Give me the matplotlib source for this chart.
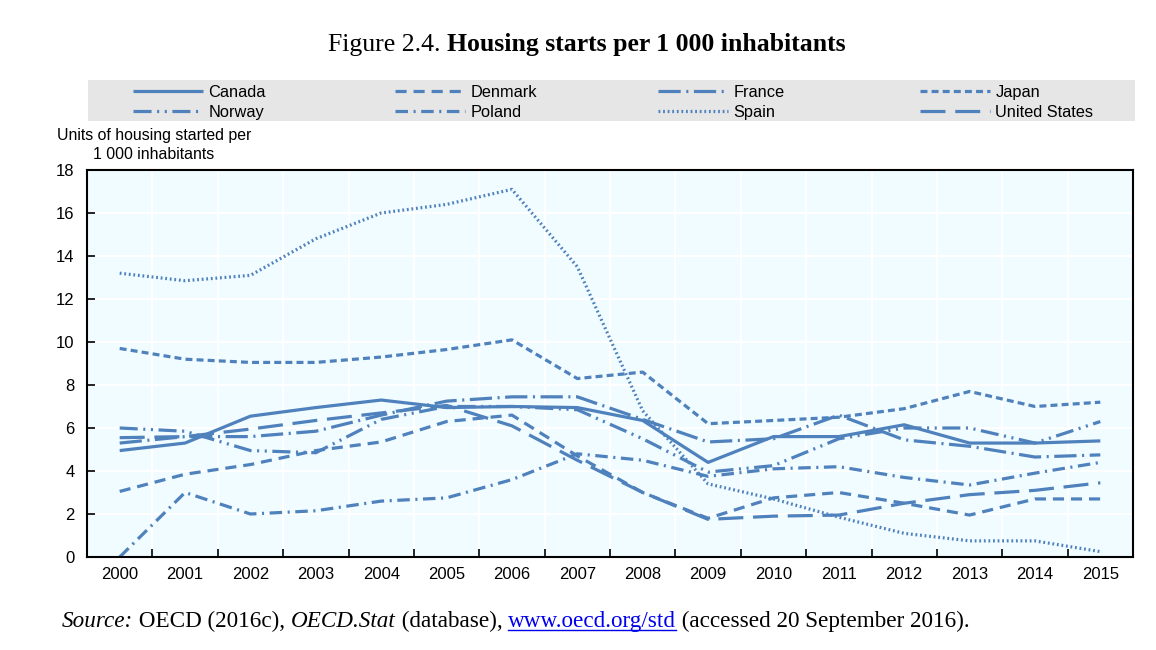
import numpy as np
import matplotlib.pyplot as plt
from matplotlib.lines import Line2D
from matplotlib.patches import Rectangle

W, H = 1156, 650

years = [str(y) for y in range(2000, 2016)]
canada = [4.95, 5.3, 6.55, 6.95, 7.3, 6.95, 7.0, 6.95, 6.35, 4.4, 5.6, 5.6, 6.15, 5.3, 5.3, 5.4]
denmark = [3.05, 3.85, 4.3, 4.95, 5.35, 6.3, 6.6, 4.7, 3.0, 1.8, 2.75, 3.0, 2.5, 1.95, 2.7, 2.7]
france = [5.3, 5.6, 5.6, 5.85, 6.6, 7.25, 7.45, 7.45, 6.4, 5.35, 5.5, 6.6, 5.45, 5.15, 4.65, 4.75]
japan = [9.7, 9.2, 9.05, 9.05, 9.3, 9.65, 10.1, 8.3, 8.6, 6.2, 6.35, 6.5, 6.9, 7.7, 7.0, 7.2]
norway = [6.0, 5.85, 4.95, 4.85, 6.4, 7.0, 7.0, 6.85, 5.5, 3.95, 4.25, 5.5, 6.0, 6.0, 5.3, 6.3]
poland = [0.0, 3.0, 2.0, 2.15, 2.6, 2.75, 3.6, 4.8, 4.5, 3.75, 4.1, 4.2, 3.7, 3.35, 3.9, 4.4]
spain = [13.2, 12.85, 13.1, 14.8, 16.0, 16.4, 17.1, 13.5, 6.8, 3.4, 2.7, 1.85, 1.1, 0.75, 0.75, 0.25]
united_states = [5.55, 5.6, 5.95, 6.35, 6.7, 7.05, 6.1, 4.5, 3.0, 1.75, 1.9, 1.95, 2.5, 2.9, 3.1, 3.45]

series = [
    ("Canada", canada, "-"),
    ("Denmark", denmark, (0, (8, 5))),
    ("France", france, (0, (16, 4, 1.5, 4))),
    ("Japan", japan, (0, (5, 3))),
    ("Norway", norway, (0, (13, 4, 1.5, 4, 1.5, 4))),
    ("Poland", poland, (0, (9, 4, 1.5, 4))),
    ("Spain", spain, (0, (1.3, 2))),
    ("United States", united_states, (0, (18, 7))),
]

blue = "#4F81BD"
plt.rcParams["lines.scale_dashes"] = False
plt.rcParams["font.family"] = ["Liberation Sans", "DejaVu Sans"]

fig = plt.figure(figsize=(W / 100, H / 100), dpi=100)
ax = fig.add_axes([87 / W, 1 - 557 / H, (1133 - 87) / W, (557 - 170) / H])
ax.set_facecolor("#F0FCFF")

x = np.arange(len(years))
handles = {}
for name, vals, ls in series:
    ln, = ax.plot(x, vals, color=blue, lw=2.3, linestyle=ls, label=name,
                  dash_capstyle="butt", solid_capstyle="butt")
    handles[name] = ln

ax.set_xlim(-0.5, len(years) - 0.5)
ax.set_ylim(0, 18)
ax.set_yticks(np.arange(0, 19, 2))
ax.set_xticks(x)
ax.set_xticklabels(years)
ax.set_xticks(np.arange(-0.5, len(years), 1), minor=True)
ax.tick_params(axis="x", which="major", length=0, labelsize=12, pad=7)
ax.tick_params(axis="x", which="minor", direction="in", length=6, width=1.2)
ax.tick_params(axis="y", direction="in", length=6, width=1.2, labelsize=12, pad=9)
ax.grid(True, axis="y", color="white", lw=1.5)
ax.grid(True, axis="x", which="minor", color="white", lw=1.5)
ax.set_axisbelow(True)
for s in ax.spines.values():
    s.set_linewidth(1.5)
    s.set_color("black")

# legend band
fig.add_artist(Rectangle((88 / W, 1 - 121 / H), (1135 - 88) / W, 41 / H,
                         transform=fig.transFigure, facecolor="#E6E6E6",
                         edgecolor="none", zorder=0))
cols = [["Canada", "Norway"], ["Denmark", "Poland"], ["France", "Spain"],
        ["Japan", "United States"]]
col_x = [133, 395, 658, 920]
for cx, names in zip(col_x, cols):
    leg = fig.legend([handles[n] for n in names], names, loc="upper left",
                     bbox_to_anchor=(cx / W, 1 - 85 / H), frameon=False,
                     fontsize=11.8, handlelength=4.3, handletextpad=0.3,
                     labelspacing=0.3, borderpad=0, borderaxespad=0)

fig.text(154 / W, 1 - 145 / H, "Units of housing started per\n1 000 inhabitants",
         ha="center", va="center", fontsize=11.4, linespacing=1.35)

renderer = fig.canvas.get_renderer()


def run_text(x0, y0, parts, size):
    xp = x0
    extents = []
    for txt, kw in parts:
        t = fig.text(xp / W, 1 - y0 / H, txt, fontsize=size, va="baseline",
                     family=["Liberation Serif", "DejaVu Serif"], **kw)
        bb = t.get_window_extent(renderer)
        extents.append((xp, xp + bb.width))
        xp += bb.width
    return extents


run_text(328, 51, [("Figure 2.4. ", {}),
                   ("Housing starts per 1 000 inhabitants", {"weight": "bold"})], 18.5)

ext = run_text(62, 627, [("Source:", {"style": "italic"}),
                         (" OECD (2016c), ", {}),
                         ("OECD.Stat", {"style": "italic"}),
                         (" (database), ", {}),
                         ("www.oecd.org/std", {"color": "#0000EE"}),
                         (" (accessed 20 September 2016).", {})], 16.7)
x0, x1 = ext[4]
fig.add_artist(Line2D([x0 / W, x1 / W], [1 - 630 / H, 1 - 630 / H],
                      transform=fig.transFigure, color="#0000EE", lw=1))

fig.savefig("out.png", dpi=100)
